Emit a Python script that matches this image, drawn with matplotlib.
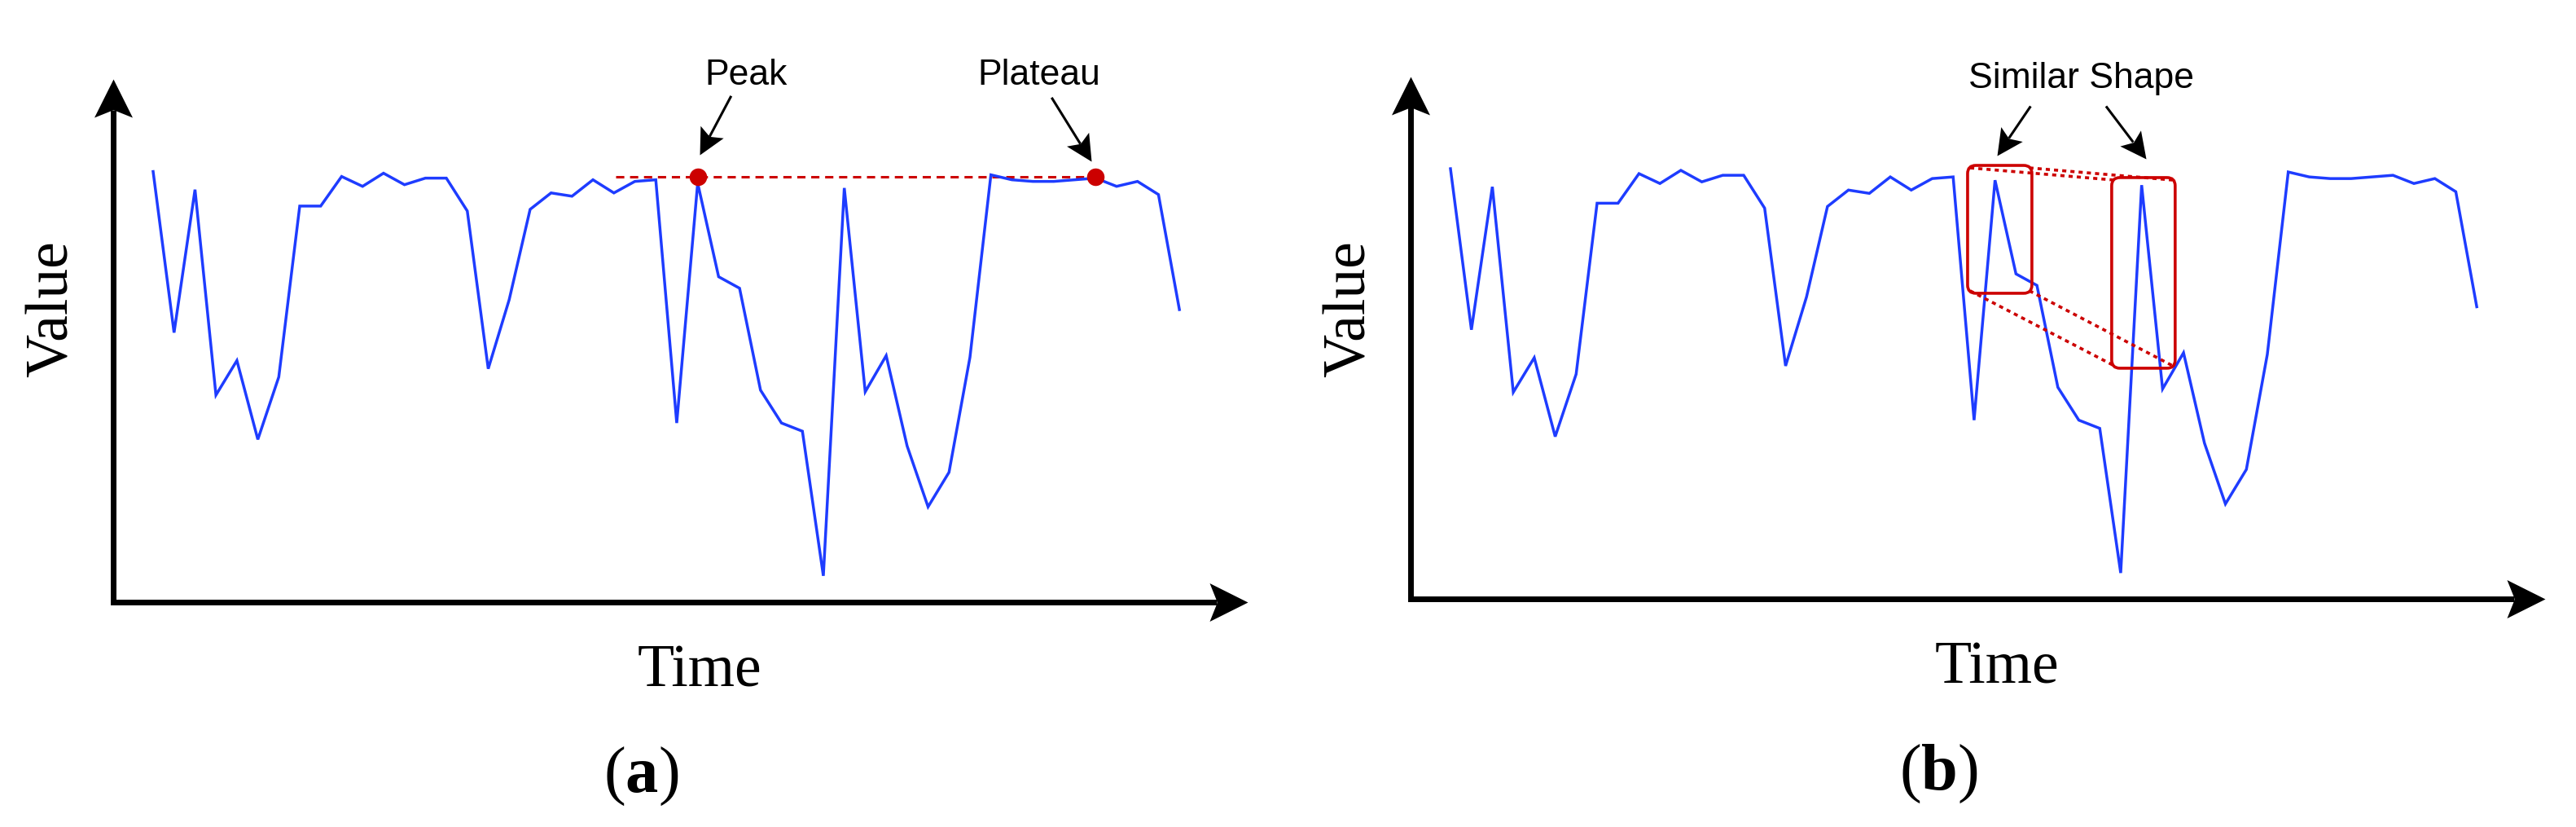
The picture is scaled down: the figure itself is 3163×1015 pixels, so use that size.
import numpy as np
import matplotlib
matplotlib.use("Agg")
import matplotlib.pyplot as plt
from matplotlib.path import Path
from matplotlib.markers import MarkerStyle
from matplotlib.transforms import Affine2D
from matplotlib.patches import FancyBboxPatch

plt.rcParams['mathtext.fontset'] = 'custom'
plt.rcParams['mathtext.rm'] = 'Liberation Serif'
plt.rcParams['mathtext.bf'] = 'Liberation Serif:bold'
plt.rcParams['mathtext.default'] = 'rm'

# series (arbitrary value units, 0 = time axis)
values = [262, 164, 251, 126, 147, 99, 137, 241, 241, 259,
          253, 261, 254, 258, 258, 238, 142, 184, 239, 249,
          247, 257, 249, 256, 257, 109, 255, 198, 191, 129,
          109, 104, 16, 252, 128, 150, 95, 58, 79, 149,
          260, 257, 256, 256, 257, 258, 253, 256, 248, 178]
t = np.arange(len(values))

# panel (a) annotations
peak_idx, plateau_idx = 26, 45
level = 259
dash_start = 22.1
peak_label = "Peak"
plateau_label = "Plateau"

# panel (b) annotations: (x0, x1, y0, y1) of the two boxes
shape_boxes = [(24.69, 27.76, 186.2, 264.0), (31.57, 34.6, 140.6, 256.6)]
shape_label = "Similar Shape"

BLUE = '#1e3cff'
RED = '#cc0000'
DPI = 100
XLIM = (-1.905, 52.26)
YLIM = (0, 318.3)

fig = plt.figure(figsize=(31.63, 10.15), dpi=DPI)
ax_a = fig.add_axes([0.04395, 0.27192, 0.44040, 0.63251])
ax_b = fig.add_axes([0.54758, 0.27537, 0.44040, 0.63251])


def head_path(w):
    return Path([(0, 0), (-1, w), (-0.8, 0), (-1, -w), (0, 0)],
                [Path.MOVETO, Path.LINETO, Path.LINETO, Path.LINETO, Path.CLOSEPOLY])


def put_head(ax, pt, ang, size_px, w=0.5):
    m = MarkerStyle(head_path(w), transform=Affine2D().rotate_deg(ang))
    ax.plot([pt[0]], [pt[1]], marker=m, ms=size_px * 72 / DPI * 2, color='black',
            mew=0, ls='none', clip_on=False, zorder=5)


def draw_arrow(ax, tail, tip, lw=2.2, head_px=32, w=0.5):
    p0 = ax.transData.transform(tail)
    p1 = ax.transData.transform(tip)
    d = p1 - p0
    L = np.hypot(*d)
    ang = np.degrees(np.arctan2(d[1], d[0]))
    back = ax.transData.inverted().transform(p1 - d / L * 0.8 * head_px)
    ax.plot([tail[0], back[0]], [tail[1], back[1]], color='black', lw=lw,
            solid_capstyle='butt', clip_on=False, zorder=5)
    put_head(ax, tip, ang, head_px, w)


def draw_frame(ax):
    ax.set_xlim(XLIM)
    ax.set_ylim(YLIM)
    ax.axis('off')
    x0, x1 = XLIM
    y0, y1 = YLIM
    head = 47
    inv = ax.transData.inverted()
    xt = ax.transData.transform((x1, y0))
    yt = ax.transData.transform((x0, y1))
    xe = inv.transform((xt[0] - 0.8 * head, xt[1]))[0]
    ye = inv.transform((yt[0], yt[1] - 0.8 * head))[1]
    ax.plot([x0, x0, xe], [ye, y0, y0], color='black', lw=5,
            solid_joinstyle='miter', solid_capstyle='butt', clip_on=False)
    put_head(ax, (x1, y0), 0, head)
    put_head(ax, (x0, y1), 90, head)
    ax.plot(t, values, color=BLUE, lw=2.5, solid_joinstyle='miter', zorder=3)


for ax in (ax_a, ax_b):
    draw_frame(ax)

# (a) peak / plateau
ax_a.plot([dash_start, plateau_idx], [level, level], color=RED, lw=2.2,
          linestyle=(0, (3.3, 2.3)), zorder=2)
ax_a.plot([peak_idx, plateau_idx], [level, level], 'o', color=RED, ms=15.5,
          mew=0, zorder=4)
ax_a.text(28.3, 315, peak_label, ha='center', va='baseline', fontsize=32,
          family='Liberation Sans')
ax_a.text(42.3, 315, plateau_label, ha='center', va='baseline', fontsize=32,
          family='Liberation Sans')
draw_arrow(ax_a, (27.6, 308), (26.1, 272))
draw_arrow(ax_a, (42.9, 307), (44.8, 268))

# (b) similar shape boxes
for (bx0, bx1, by0, by1) in shape_boxes:
    box = FancyBboxPatch((bx0, by0), bx1 - bx0, by1 - by0,
                         boxstyle="round,pad=0,rounding_size=0.39",
                         mutation_aspect=12.75, fill=False, ec=RED, lw=2.6, zorder=4)
    ax_b.add_patch(box)
b1, b2 = shape_boxes
ins_x, ins_y = 0.12, 1.5
for cx1, cy1, cx2, cy2, sx, sy in [
        (b1[0], b1[3], b2[0], b2[3], 1, -1),
        (b1[1], b1[3], b2[1], b2[3], -1, -1),
        (b1[0], b1[2], b2[0], b2[2], 1, 1),
        (b1[1], b1[2], b2[1], b2[2], -1, 1)]:
    ax_b.plot([cx1 + sx * ins_x, cx2 + sx * ins_x], [cy1 + sy * ins_y, cy2 + sy * ins_y],
              color=RED, lw=2.6, linestyle=(0, (1.4, 1.4)), zorder=4)
ax_b.text(30.1, 311, shape_label, ha='center', va='baseline', fontsize=32,
          family='Liberation Sans')
draw_arrow(ax_b, (27.7, 300), (26.1, 270))
draw_arrow(ax_b, (31.3, 300), (33.2, 268))

# axis names and captions
for xv, xt, xc, yb in [(0.02055, 0.2716, 0.2488, 0.1704), (0.5242, 0.7752, 0.7525, 0.1739)]:
    fig.text(xv, 0.626, "Value", rotation=90, ha='center', va='center',
             fontsize=53, family='Liberation Serif')
    fig.text(xt, yb, "Time", ha='center', va='baseline', fontsize=53,
             family='Liberation Serif')
fig.text(0.2488, 0.0424, r"$(\mathbf{a})$", ha='center', va='baseline', fontsize=58)
fig.text(0.7525, 0.0452, r"$(\mathbf{b})$", ha='center', va='baseline', fontsize=58)

fig.savefig("out.png", dpi=DPI, facecolor='white')
